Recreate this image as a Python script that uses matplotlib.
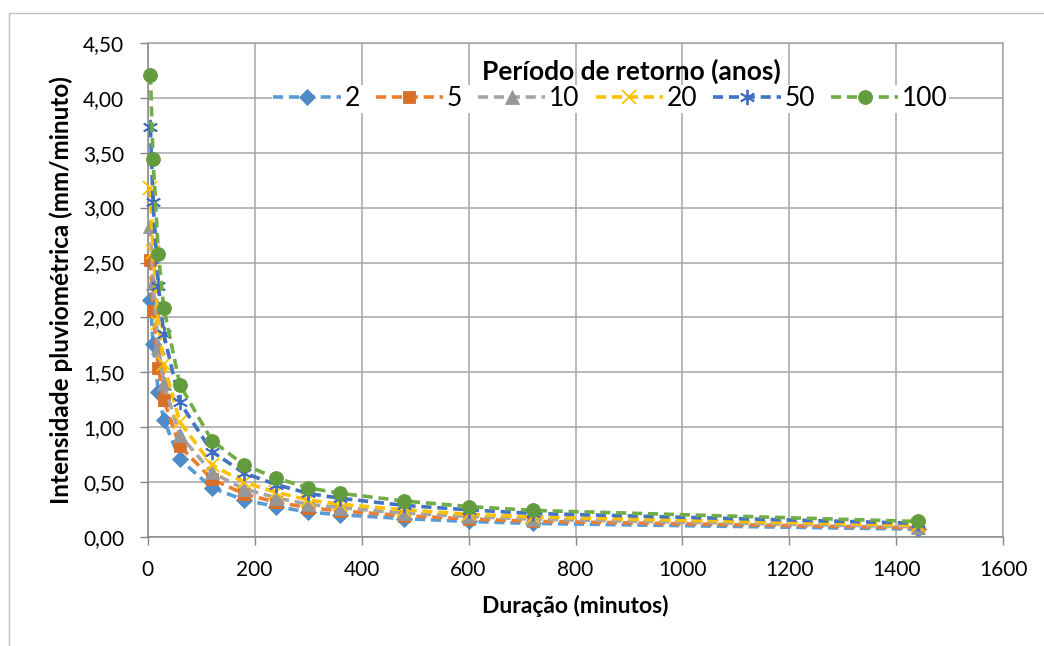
import matplotlib
matplotlib.use("Agg")
import matplotlib.pyplot as plt
from matplotlib.patches import Rectangle
from matplotlib.ticker import FuncFormatter, MultipleLocator

plt.rcParams['font.family'] = ['Lato', 'DejaVu Sans']

# Duração (minutos)
durations = [5, 10, 20, 30, 60, 120, 180, 240, 300, 360, 480, 600, 720, 1440]

# Intensidade pluviométrica (mm/minuto) por período de retorno (anos)
T2 = [2.16, 1.76, 1.32, 1.07, 0.71, 0.45, 0.34, 0.28, 0.23, 0.205, 0.17, 0.144, 0.126, 0.074]
T5 = [2.52, 2.06, 1.54, 1.25, 0.83, 0.53, 0.395, 0.32, 0.27, 0.24, 0.197, 0.167, 0.146, 0.086]
T10 = [2.83, 2.31, 1.73, 1.40, 0.93, 0.59, 0.44, 0.36, 0.30, 0.27, 0.22, 0.19, 0.165, 0.097]
T20 = [3.18, 2.60, 1.95, 1.58, 1.05, 0.66, 0.50, 0.41, 0.34, 0.30, 0.25, 0.21, 0.185, 0.109]
T50 = [3.73, 3.05, 2.29, 1.85, 1.23, 0.78, 0.585, 0.48, 0.40, 0.355, 0.29, 0.25, 0.217, 0.128]
T100 = [4.21, 3.44, 2.58, 2.09, 1.39, 0.88, 0.66, 0.54, 0.45, 0.40, 0.33, 0.28, 0.245, 0.144]

series_labels = ['2', '5', '10', '20', '50', '100']
series_values = [T2, T5, T10, T20, T50, T100]

colors = ['#5B9BD5', '#ED7D31', '#A5A5A5', '#FFC000', '#4472C4', '#70AD47']
marker_colors = ['#4F8BC6', '#D9702A', '#979797', '#FFC000', '#3F6BC0', '#629C3E']
markers = ['D', 's', '^', 'x', (6, 2, 0), 'o']
msizes = [8, 9, 9.5, 9.5, 11, 10]

W, H = 1044, 646
fig = plt.figure(figsize=(W / 100, H / 100), dpi=100)
fig.patch.set_facecolor('white')

# outer chart border (cropped on right and bottom)
fig.patches.append(Rectangle((9 / W, -0.1), 1.2, (H - 13) / H + 0.1,
                             transform=fig.transFigure, fill=False,
                             edgecolor='#BFBFBF', linewidth=1.0))

L, R, B, T = 147.7, 1003.3, 537.3, 42.7
ax = fig.add_axes([L / W, 1 - B / H, (R - L) / W, (B - T) / H])

for lab, vals, c, mc, m, ms in zip(series_labels, series_values, colors,
                                   marker_colors, markers, msizes):
    thin = m in ('x',) or isinstance(m, tuple)
    ax.plot(durations, vals, color=c, linewidth=2.6, linestyle=(0, (2.8, 1.6)),
            marker=m, markersize=ms, markerfacecolor=mc,
            markeredgecolor=mc, markeredgewidth=1.3 if thin else 0.6,
            label=lab, clip_on=False, zorder=3)

ax.set_xlim(0, 1600)
ax.set_ylim(0, 4.5)
ax.xaxis.set_major_locator(MultipleLocator(200))
ax.yaxis.set_major_locator(MultipleLocator(0.5))
ax.yaxis.set_major_formatter(FuncFormatter(lambda v, p: f"{v:.2f}".replace('.', ',')))
ax.grid(True, color='#A6A6A6', linewidth=1.1, zorder=0)
ax.set_axisbelow(True)
for s in ax.spines.values():
    s.set_color('#A6A6A6')
    s.set_linewidth(1.1)
ax.spines['left'].set_color('#868686')
ax.spines['bottom'].set_color('#868686')
ax.tick_params(axis='both', which='both', direction='out', length=6,
               width=1.0, color='#868686', labelsize=15, labelcolor='black')
ax.tick_params(axis='y', pad=11)
ax.tick_params(axis='x', pad=10)
ax.tick_params(top=False, right=False)

ax.set_xlabel('Duração (minutos)', fontsize=16.5, fontweight='bold', labelpad=11)
ax.set_ylabel('Intensidade pluviométrica (mm/minuto)', fontsize=17.5,
              fontweight='bold', labelpad=7)

fig.text(0.605, 1 - 71 / H, 'Período de retorno (anos)', fontsize=19,
         fontweight='bold', ha='center', va='center', zorder=10)

leg = ax.legend(loc='center left', bbox_to_anchor=(272 / W, 1 - 99 / H),
                bbox_transform=fig.transFigure, ncol=6, frameon=True,
                facecolor='white', edgecolor='none', framealpha=1,
                fontsize=19, handlelength=2.55, handletextpad=0.15,
                columnspacing=0.6, borderpad=0.05, borderaxespad=0)
leg.get_frame().set_linewidth(0)

fig.savefig('out.png', dpi=100)
